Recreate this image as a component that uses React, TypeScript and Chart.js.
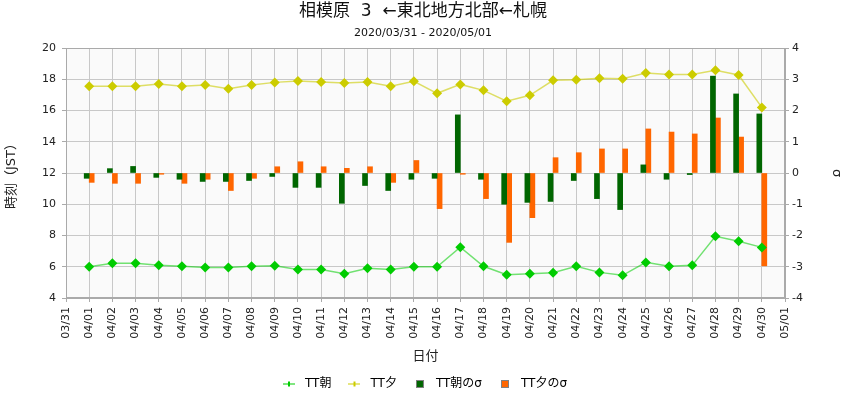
import React, { useEffect, useRef } from 'react';
import { Chart, registerables } from 'chart.js';

Chart.register(...registerables);

const FONT = "'DejaVu Sans', 'Noto Sans CJK JP', sans-serif";

const dateLabels = [
  '03/31', '04/01', '04/02', '04/03', '04/04', '04/05', '04/06', '04/07',
  '04/08', '04/09', '04/10', '04/11', '04/12', '04/13', '04/14', '04/15',
  '04/16', '04/17', '04/18', '04/19', '04/20', '04/21', '04/22', '04/23',
  '04/24', '04/25', '04/26', '04/27', '04/28', '04/29', '04/30', '05/01',
];

// TT朝 (left axis, time)
const ttAsa = [
  null, 6.0, 6.22, 6.22, 6.09, 6.03, 5.96, 5.96, 6.03, 6.07, 5.83, 5.83, 5.55, 5.9, 5.83, 6.0,
  6.0, 7.25, 6.03, 5.49, 5.55, 5.62, 6.03, 5.64, 5.45, 6.28, 6.03, 6.09, 7.95, 7.63, 7.24, null,
];

// TT夕 (left axis, time)
const ttYuu = [
  null, 17.55, 17.55, 17.55, 17.7, 17.55, 17.63, 17.4, 17.63, 17.8, 17.89, 17.82, 17.76, 17.82, 17.55, 17.87,
  17.1, 17.67, 17.29, 16.59, 16.97, 17.93, 17.97, 18.06, 18.04, 18.4, 18.31, 18.31, 18.57, 18.27, 16.2, null,
];

// TT朝のσ (right axis)
const sigmaAsa = [
  null, -0.17, 0.14, 0.21, -0.14, -0.2, -0.27, -0.27, -0.24, -0.11, -0.46, -0.46, -0.97, -0.4, -0.56, -0.2,
  -0.17, 1.86, -0.2, -1.0, -0.94, -0.91, -0.24, -0.82, -1.17, 0.26, -0.2, -0.05, 3.1, 2.53, 1.89, null,
];

// TT夕のσ (right axis)
const sigmaYuu = [
  null, -0.3, -0.33, -0.33, -0.04, -0.33, -0.2, -0.56, -0.17, 0.2, 0.36, 0.2, 0.15, 0.2, -0.3, 0.4,
  -1.14, -0.04, -0.82, -2.22, -1.43, 0.49, 0.65, 0.77, 0.77, 1.41, 1.31, 1.25, 1.76, 1.15, -2.97, null,
];

const leftTicks = [4, 6, 8, 10, 12, 14, 16, 18, 20];
const rightTicks = [-4, -3, -2, -1, 0, 1, 2, 3, 4];

const COLORS = {
  asa: '#00cc00',
  yuu: '#cccc00',
  asaSigma: '#006600',
  yuuSigma: '#ff6600',
};

function lineIcon(color: string) {
  const c = document.createElement('canvas');
  c.width = 12;
  c.height = 7;
  const g = c.getContext('2d')!;
  g.fillStyle = color;
  g.fillRect(0, 3, 12, 1);
  g.fillRect(5, 1, 2, 5);
  return c;
}

function boxIcon(color: string) {
  const c = document.createElement('canvas');
  c.width = 8;
  c.height = 8;
  const g = c.getContext('2d')!;
  g.fillStyle = '#808080';
  g.fillRect(0, 0, 8, 8);
  g.fillStyle = color;
  g.fillRect(1, 1, 6, 6);
  return c;
}

const plotFrame = {
  id: 'plotFrame',
  beforeDraw(chart: any) {
    const { ctx, chartArea } = chart;
    ctx.save();
    ctx.fillStyle = '#fafafa';
    ctx.fillRect(chartArea.left, chartArea.top, chartArea.right - chartArea.left, chartArea.bottom - chartArea.top);
    ctx.restore();
  },
  afterDraw(chart: any) {
    const { ctx, chartArea } = chart;
    ctx.save();
    ctx.strokeStyle = '#aaaaaa';
    ctx.lineWidth = 1;
    ctx.strokeRect(
      Math.round(chartArea.left) + 0.5,
      Math.round(chartArea.top) + 0.5,
      Math.round(chartArea.right - chartArea.left) - 1,
      Math.round(chartArea.bottom - chartArea.top) - 1
    );
    ctx.restore();
  },
};

export default function App() {
  const ref = useRef<HTMLCanvasElement>(null);

  useEffect(() => {
    document.body.style.margin = '0';
    const canvas = ref.current!;
    const legendItems = [
      { text: 'TT朝', pointStyle: lineIcon(COLORS.asa), fillStyle: COLORS.asa, strokeStyle: COLORS.asa, lineWidth: 0, hidden: false, datasetIndex: 0 },
      { text: 'TT夕', pointStyle: lineIcon(COLORS.yuu), fillStyle: COLORS.yuu, strokeStyle: COLORS.yuu, lineWidth: 0, hidden: false, datasetIndex: 1 },
      { text: 'TT朝のσ', pointStyle: boxIcon(COLORS.asaSigma), fillStyle: COLORS.asaSigma, strokeStyle: COLORS.asaSigma, lineWidth: 0, hidden: false, datasetIndex: 2 },
      { text: 'TT夕のσ', pointStyle: boxIcon(COLORS.yuuSigma), fillStyle: COLORS.yuuSigma, strokeStyle: COLORS.yuuSigma, lineWidth: 0, hidden: false, datasetIndex: 3 },
    ];

    const chart = new Chart(canvas, {
      type: 'bar',
      data: {
        labels: dateLabels,
        datasets: [
          {
            type: 'line',
            label: 'TT朝',
            data: ttAsa,
            yAxisID: 'y',
            borderColor: 'rgba(0,204,0,0.55)',
            borderWidth: 1.5,
            pointStyle: 'rectRot',
            pointRadius: 5,
            pointBackgroundColor: COLORS.asa,
            pointBorderColor: COLORS.asa,
            pointBorderWidth: 0,
            tension: 0,
          } as any,
          {
            type: 'line',
            label: 'TT夕',
            data: ttYuu,
            yAxisID: 'y',
            borderColor: 'rgba(204,204,0,0.6)',
            borderWidth: 1.5,
            pointStyle: 'rectRot',
            pointRadius: 5,
            pointBackgroundColor: COLORS.yuu,
            pointBorderColor: COLORS.yuu,
            pointBorderWidth: 0,
            tension: 0,
          } as any,
          {
            type: 'bar',
            label: 'TT朝のσ',
            data: sigmaAsa,
            yAxisID: 'y1',
            backgroundColor: COLORS.asaSigma,
            barThickness: 5,
          } as any,
          {
            type: 'bar',
            label: 'TT夕のσ',
            data: sigmaYuu,
            yAxisID: 'y1',
            backgroundColor: COLORS.yuuSigma,
            barThickness: 5,
          } as any,
        ],
      },
      options: {
        responsive: false,
        animation: false,
        events: [],
        layout: { padding: { top: 0, left: 0, right: 0, bottom: -5 } },
        font: { family: FONT },
        scales: {
          x: {
            type: 'category',
            offset: false,
            grid: { offset: false, color: '#c8c8c8', tickLength: 4, tickColor: '#aaaaaa' },
            border: { color: '#aaaaaa' },
            ticks: {
              autoSkip: false,
              minRotation: 90,
              maxRotation: 90,
              padding: 5,
              color: '#222',
              font: { size: 11, family: FONT },
            },
            title: {
              display: true,
              text: '日付',
              color: '#222',
              font: { size: 13, family: FONT },
              padding: { top: 4, bottom: 0.2 },
            },
            afterFit(s: any) { s.height = 67; },
          },
          y: {
            position: 'left',
            min: 4,
            max: 20,
            afterBuildTicks(s: any) { s.ticks = leftTicks.map((v) => ({ value: v })); },
            grid: { color: '#c8c8c8', tickLength: 4, tickColor: '#aaaaaa' },
            border: { color: '#aaaaaa' },
            ticks: { padding: 6, color: '#222', font: { size: 11, family: FONT } },
            title: {
              display: true,
              text: '時刻（JST）',
              color: '#222',
              font: { size: 13, family: FONT },
              padding: { top: 4, bottom: 4 },
            },
            afterFit(s: any) { s.width = 66; },
          },
          y1: {
            position: 'right',
            min: -4,
            max: 4,
            afterBuildTicks(s: any) { s.ticks = rightTicks.map((v) => ({ value: v })); },
            grid: { drawOnChartArea: false, tickLength: 4, tickColor: '#aaaaaa' },
            border: { color: '#aaaaaa' },
            ticks: { padding: 3, color: '#222', font: { size: 11, family: FONT } },
            title: {
              display: true,
              text: 'σ',
              color: '#222',
              font: { size: 13, family: FONT },
              padding: { top: 2.2, bottom: 4 },
            },
            afterFit(s: any) { s.width = 61; },
          },
        },
        plugins: {
          title: {
            display: true,
            text: '相模原  3  ←東北地方北部←札幌',
            color: '#111',
            font: { size: 17, weight: 'normal', family: FONT },
            padding: { top: 1.8, bottom: 3.6 },
          },
          subtitle: {
            display: true,
            text: '2020/03/31 - 2020/05/01',
            color: '#111',
            font: { size: 11, family: FONT },
            padding: { top: 1.2, bottom: 7.8 },
          },
          legend: {
            position: 'bottom',
            labels: {
              usePointStyle: true,
              pointStyleWidth: 20,
              padding: 13,
              color: '#222',
              font: { size: 12, family: FONT },
              generateLabels: () => legendItems as any,
            },
          },
          tooltip: { enabled: false },
        },
      },
      plugins: [plotFrame],
    });

    return () => chart.destroy();
  }, []);

  return (
    <div style={{ position: 'absolute', left: 0, top: 0, width: 846, height: 395 }}>
      <canvas ref={ref} width={846} height={395} />
    </div>
  );
}
